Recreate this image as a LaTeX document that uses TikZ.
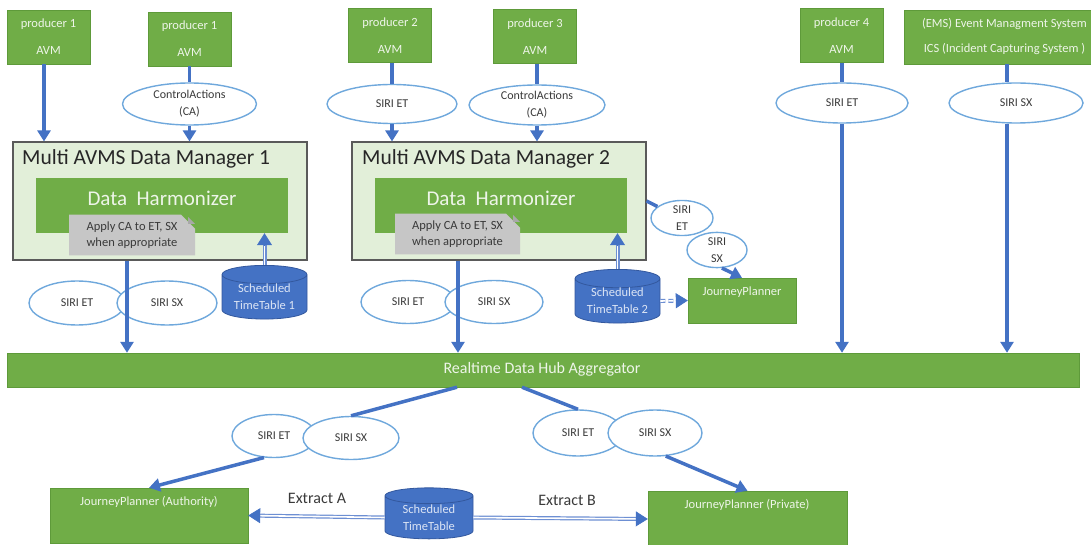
\documentclass[tikz,border=0pt]{standalone}
\usepackage{fontspec}
\setmainfont{Carlito}
\usetikzlibrary{arrows.meta,shapes.geometric,shapes.misc,calc}
\definecolor{grn}{HTML}{70AD47}
\definecolor{grnb}{HTML}{5E9A3A}
\definecolor{ptext}{HTML}{EEF5E9}
\definecolor{ablue}{HTML}{4472C4}
\definecolor{ovl}{HTML}{6FA8DC}
\definecolor{dtext}{HTML}{3A3A3A}
\definecolor{mgrfill}{HTML}{E2EFD9}
\definecolor{mgrborder}{HTML}{5A5A5A}
\definecolor{notegray}{HTML}{C6C6C6}
\definecolor{notefold}{HTML}{A8A8A8}
\definecolor{cylborder}{HTML}{33589E}
\definecolor{cyltext}{HTML}{DCE5F5}
\definecolor{dblblue}{HTML}{6D8FD3}
\newcommand{\dblarrow}[3][]{%
  \draw[dblshaft,#1] (#2) -- ($(#3)!10pt!(#2)$);
  \draw[dbltip] ($(#3)!12pt!(#2)$) -- (#3);}
\begin{document}
\begin{tikzpicture}[x=1pt,y=-1pt,
  prod/.style={rectangle, fill=grn, draw=grnb, line width=0.5pt, minimum width=83pt, minimum height=54pt, inner sep=0pt, align=center, text=ptext, font=\fontsize{12.5}{15}\selectfont},
  oval/.style={ellipse, draw=ovl, line width=1.4pt, fill=white, inner sep=0pt, align=center, text=dtext, font=\fontsize{12}{17}\selectfont},
  mgr/.style={rectangle, fill=mgrfill, draw=mgrborder, line width=1.1pt, minimum width=294pt, minimum height=118pt, inner sep=0pt},
  mgrtitle/.style={anchor=west, inner sep=0pt, text=black!85, font=\fontsize{21.5}{24}\selectfont},
  harm/.style={rectangle, fill=grn, minimum width=252pt, minimum height=55pt, inner sep=0pt},
  htext/.style={inner sep=0pt, text=ptext, font=\fontsize{21}{24}\selectfont},
  notebox/.style={chamfered rectangle, chamfered rectangle corners=north east, chamfered rectangle xsep=7pt, chamfered rectangle ysep=7pt, fill=notegray, minimum width=126pt, minimum height=36pt, inner sep=0pt, align=center, text=dtext, font=\fontsize{12.5}{16}\selectfont},
  cyl/.style={cylinder, shape border rotate=90, aspect=0.3, draw=cylborder, line width=0.8pt, fill=ablue, inner sep=0pt, align=center, text=cyltext, font=\fontsize{12.5}{17}\selectfont},
  gbox/.style={rectangle, fill=grn, draw=grnb, line width=0.4pt, inner sep=0pt},
  gtext/.style={inner sep=0pt, text=ptext, font=\fontsize{12.5}{15}\selectfont},
  lbl/.style={inner sep=0pt, text=dtext, font=\fontsize{16}{19}\selectfont},
  ln/.style={draw=ablue, line width=3.5pt},
  arr/.style={draw=ablue, line width=3.5pt, -{Triangle[width=13pt,length=11pt]}},
  dblshaft/.style={draw=dblblue, line width=4pt, postaction={draw=white, line width=1.6pt}},
  dbltip/.style={draw=ablue, fill=ablue, line width=0.6pt, -{Triangle[width=15pt,length=12pt]}}
]
\useasboundingbox (0,0) rectangle (1091,545);
\clip (0,0) rectangle (1091,545);

% producers
\node[prod] (p1) at (48.5,37) {producer 1\\[12pt]AVM};
\node[prod] (p1b) at (189.5,39) {producer 1\\[12pt]AVM};
\node[prod] (p2) at (390,35.5) {producer 2\\[12pt]AVM};
\node[prod] (p3) at (535,36.5) {producer 3\\[12pt]AVM};
\node[prod] (p4) at (841.5,35.5) {producer 4\\[12pt]AVM};
\node[prod, minimum width=201pt] (ems) at (1004.5,37) {(EMS) Event Managment System\\[10pt]ICS (Incident Capturing System )};

% top ovals
\node[oval, minimum width=134pt, minimum height=42pt] (ca1) at (189.5,104) {ControlActions\\(CA)};
\node[oval, minimum width=130pt, minimum height=39pt] (et2) at (392,104) {SIRI ET};
\node[oval, minimum width=136pt, minimum height=40pt] (ca2) at (537,105) {ControlActions\\(CA)};
\node[oval, minimum width=132pt, minimum height=40pt] (et4) at (842,103) {SIRI ET};
\node[oval, minimum width=134pt, minimum height=40pt] (sx5) at (1016,103) {SIRI SX};

% managers
\node[mgr] (dm1) at (160,201) {};
\node[mgrtitle] (dm1t) at (22,159) {Multi AVMS Data Manager 1};
\node[harm] (hz1) at (162,205.5) {};
\node[htext] (hz1t) at (162,198) {Data\ \ Harmonizer};
\node[notebox] (n1) at (132,235) {Apply CA to ET, SX\\when appropriate};
\fill[notefold] (195,224) -- (188,217) -- (188,224) -- cycle;

\node[mgr] (dm2) at (499,201) {};
\node[mgrtitle] (dm2t) at (362,159) {Multi AVMS Data Manager 2};
\node[harm] (hz2) at (501,205.5) {};
\node[htext] (hz2t) at (501,198) {Data\ \ Harmonizer};
\node[notebox, minimum width=125pt, minimum height=38pt] (n2) at (457.5,234) {Apply CA to ET, SX\\when appropriate};
\fill[notefold] (520,222) -- (513,215) -- (513,222) -- cycle;

% cylinders
\node[cyl, minimum width=85pt, minimum height=48pt] (cyl1) at (264.5,297) {Scheduled\\TimeTable 1};
\node[cyl, minimum width=85pt, minimum height=52pt] (cyl2) at (617.5,301) {Scheduled\\TimeTable 2};
\node[cyl, minimum width=88pt, minimum height=51pt] (cyl3) at (429,517.5) {Scheduled\\TimeTable};

% small journey planner
\node[gbox, minimum width=108pt, minimum height=45pt] (jps) at (742,300.5) {};
\node[gtext] (jpst) at (742,292) {JourneyPlanner};
\node[oval, minimum width=62pt, minimum height=34pt] (ets) at (682,218) {SIRI\\ET};
\node[oval, minimum width=60pt, minimum height=34pt] (sxs) at (717,250) {SIRI\\SX};

% ovals below managers
\node[oval, minimum width=96pt, minimum height=44pt] (et1b) at (77,303) {SIRI ET};
\node[oval, minimum width=100pt, minimum height=44pt] (sx1b) at (167,303) {SIRI SX};
\node[oval, minimum width=94pt, minimum height=43pt] (et2b) at (408,302) {SIRI ET};
\node[oval, minimum width=98pt, minimum height=43pt] (sx2b) at (494,302) {SIRI SX};

% hub
\node[gbox, minimum width=1072pt, minimum height=34pt] (hub) at (543,370) {};
\node[inner sep=0pt, text=ptext, font=\fontsize{16}{19}\selectfont] (hubt) at (542,369) {Realtime Data Hub Aggregator};

% bottom ovals
\node[oval, minimum width=84pt, minimum height=43pt] (etb1) at (274,436) {SIRI ET};
\node[oval, minimum width=96pt, minimum height=43pt] (sxb1) at (351,438) {SIRI SX};
\node[oval, minimum width=90pt, minimum height=46pt] (etb2) at (578,433) {SIRI ET};
\node[oval, minimum width=94pt, minimum height=46pt] (sxb2) at (655,433) {SIRI SX};

% bottom journey planners
\node[gbox, minimum width=198pt, minimum height=55pt] (jpa) at (149,515.5) {};
\node[gtext] (jpat) at (149,502) {JourneyPlanner (Authority)};
\node[gbox, minimum width=199pt, minimum height=56pt] (jpp) at (747.5,519) {};
\node[gtext] (jppt) at (747,505) {JourneyPlanner (Private)};
\node[lbl] (exa) at (317,498) {Extract A};
\node[lbl] (exb) at (567,500) {Extract B};

% helper positions
\coordinate (x44) at (44,0);
\coordinate (x127) at (127,0);
\coordinate (x458) at (458,0);
\coordinate (x1007) at (1007,0);
\coordinate (x457) at (457,0);
\coordinate (x522) at (522,0);
\coordinate (hz1in) at (cyl1.north |- hz1.south);
\coordinate (hz2in) at (cyl2.north |- hz2.south);

% connectors
\draw[arr] (x44 |- p1.south) -- (x44 |- dm1.north);
\draw[ln] (p1b.south) -- (ca1.north);
\draw[arr] (ca1.south) -- (ca1.south |- dm1.north);
\draw[ln] (et2.north |- p2.south) -- (et2.north);
\draw[arr] (et2.south) -- (et2.south |- dm2.north);
\draw[ln] (ca2.north |- p3.south) -- (ca2.north);
\draw[arr] (ca2.south) -- (ca2.south |- dm2.north);
\draw[ln] (et4.north |- p4.south) -- (et4.north);
\draw[arr] (et4.south) -- (et4.south |- hub.north);
\draw[ln] (x1007 |- ems.south) -- (x1007 |- sx5.north);
\draw[arr] (x1007 |- sx5.south) -- (x1007 |- hub.north);

\draw[arr] (x127 |- dm1.south) -- (x127 |- hub.north);
\draw[arr] (x458 |- dm2.south) -- (x458 |- hub.north);

\dblarrow{cyl1.north}{hz1in}
\dblarrow{cyl2.north}{hz2in}
\dblarrow[dash pattern=on 5pt off 3pt]{cyl2.east}{jps.west}

\draw[ln] (dm2.east) -- (ets.155);
\draw[arr] (sxs.285) -- (jps.north);

\draw[ln] (x457 |- hub.south) -- (sxb1.north);
\draw[arr] (etb1.245) -- (jpa.north);
\draw[ln] (x522 |- hub.south) -- (etb2.north);
\draw[arr] (sxb2.295) -- (jpp.north);

\dblarrow{cyl3.west}{jpa.east}
\dblarrow{cyl3.east}{jpp.west}
\end{tikzpicture}
\end{document}
